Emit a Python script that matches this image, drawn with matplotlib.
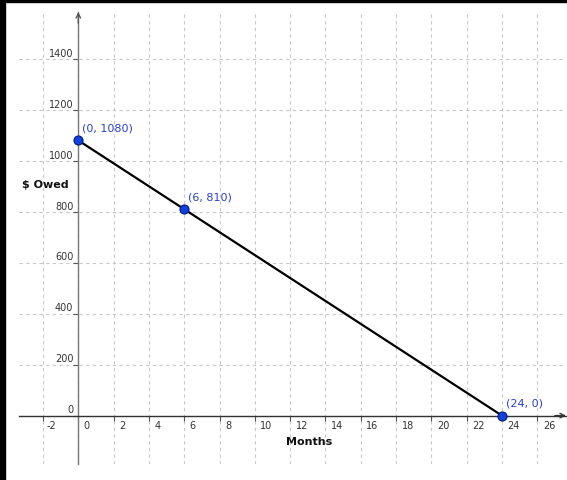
import matplotlib
matplotlib.use("Agg")
import matplotlib.pyplot as plt
from matplotlib.patches import Rectangle

# Data
months = [0, 6, 24]
owed = [1080, 810, 0]
point_labels = ["(0, 1080)", "(6, 810)", "(24, 0)"]
x_ticks = list(range(-2, 27, 2))
y_ticks = list(range(0, 1401, 200))
x_label = "Months"
y_label = "$ Owed"

plt.rcParams['font.family'] = ['DejaVu Sans']

fig = plt.figure(figsize=(5.67, 4.81), dpi=100)
ax = fig.add_axes([19/567, 1-465/481, (566-19)/567, (465-13)/481])
ax.set_xlim(-3.36, 27.63)
ax.set_ylim(-190, 1584)

ax.set_xticks(x_ticks)
ax.set_yticks(y_ticks)
ax.grid(True, color='#c8c8c8', linestyle=(0, (3, 3)), linewidth=0.8)
ax.set_axisbelow(True)

for s in ['top', 'right']:
    ax.spines[s].set_visible(False)
ax.spines['left'].set_position(('data', 0))
ax.spines['bottom'].set_position(('data', 0))
ax.spines['left'].set_color('#777777')
ax.spines['bottom'].set_color('#333333')
ax.spines['left'].set_linewidth(1.0)
ax.spines['bottom'].set_linewidth(1.0)
ax.tick_params(axis='x', direction='out', length=3.5, color='#555555',
               labelbottom=False)
ax.tick_params(axis='y', direction='out', length=3.5, color='#555555',
               labelleft=False)

# Arrow heads
ax.annotate('', xy=(27.63, 0), xytext=(27.0, 0),
            arrowprops=dict(arrowstyle='->', color='#333333', lw=1.0,
                            mutation_scale=8, shrinkA=0, shrinkB=0),
            annotation_clip=False)
ax.annotate('', xy=(0, 1584), xytext=(0, 1540),
            arrowprops=dict(arrowstyle='->', color='#555555', lw=1.0,
                            mutation_scale=8, shrinkA=0, shrinkB=0),
            annotation_clip=False)

tick_color = '#333333'
for xv in x_ticks:
    ax.annotate(str(xv), xy=(xv, 0), xytext=(2.5 if xv < 0 else 4.0, -7),
                textcoords='offset points', ha='left', va='center',
                fontsize=7, color=tick_color)
for yv in y_ticks:
    ax.annotate(str(yv), xy=(0, yv), xytext=(-3.6, 4.5),
                textcoords='offset points', ha='right', va='center',
                fontsize=7, color=tick_color)

# Axis titles
ax.text(45.5/567, 1-185/481, y_label, transform=fig.transFigure,
        ha='center', va='center', fontsize=8, fontweight='bold',
        color='#111111', parse_math=False)
ax.text(309/567, 1-442/481, x_label, transform=fig.transFigure,
        ha='center', va='center', fontsize=8, fontweight='bold',
        color='#111111')

# Line and points
ax.plot([months[0], months[-1]], [owed[0], owed[-1]], color='black',
        lw=1.6, zorder=3, solid_capstyle='round')
ax.plot(months, owed, linestyle='none', marker='o', markersize=6.5,
        markerfacecolor='#1040dd', markeredgecolor='#001a80',
        markeredgewidth=0.8, zorder=4, clip_on=False)
for xv, yv, lab in zip(months, owed, point_labels):
    ax.annotate(lab, xy=(xv, yv), xytext=(3.0, 9.5),
                textcoords='offset points', ha='left', va='center',
                fontsize=8, color='#2a3fd0', zorder=5)

# Black frame remnants (top and left)
fig.patches.append(Rectangle((0, 1-3/481), 1, 3/481, transform=fig.transFigure,
                             color='black', zorder=10))
fig.patches.append(Rectangle((0, 0), 5/567, 1, transform=fig.transFigure,
                             color='black', zorder=10))

fig.savefig('out.png', dpi=100)
